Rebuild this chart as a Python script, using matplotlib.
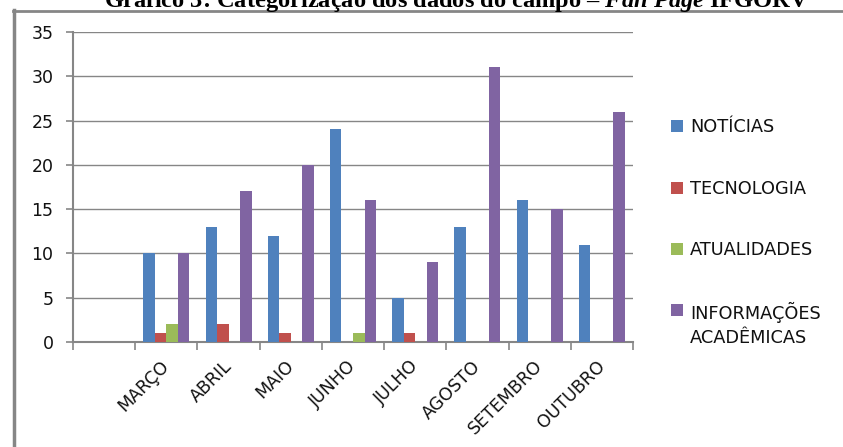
import numpy as np
import matplotlib
matplotlib.use("Agg")
import matplotlib.pyplot as plt
from matplotlib.patches import Rectangle
from matplotlib.lines import Line2D
from matplotlib.transforms import ScaledTranslation

# categorias (a primeira fica vazia, como na planilha original)
meses = ['', 'MARÇO', 'ABRIL', 'MAIO', 'JUNHO', 'JULHO', 'AGOSTO', 'SETEMBRO', 'OUTUBRO']
noticias = [0, 10, 13, 12, 24, 5, 13, 16, 11]
tecnologia = [0, 1, 2, 1, 0, 1, 0, 0, 0]
atualidades = [0, 2, 0, 0, 1, 0, 0, 0, 0]
info_academicas = [0, 10, 17, 20, 16, 9, 31, 15, 26]

series = [noticias, tecnologia, atualidades, info_academicas]
nomes = ['NOTÍCIAS', 'TECNOLOGIA', 'ATUALIDADES', 'INFORMAÇÕES\nACADÊMICAS']
cores = ['#4F81BD', '#C0504D', '#9BBB59', '#8064A2']
cinza = '#868686'
texto = '#111111'

plt.rcParams['mathtext.fontset'] = 'custom'
plt.rcParams['mathtext.it'] = 'Liberation Serif:italic:bold'

W, H = 843, 447
fig = plt.figure(figsize=(W / 100, H / 100), dpi=100)
ax = fig.add_axes([73 / W, 105 / H, 560 / W, 310 / H])

x = np.arange(len(meses))
largura = 0.185
for i, (valores, cor) in enumerate(zip(series, cores)):
    ax.bar(x + (i - 1.5) * largura, valores, largura, color=cor, zorder=3)

ax.set_xlim(-0.5, len(meses) - 0.5)
ax.set_ylim(0, 35)
ax.set_yticks(range(0, 36, 5))
ax.yaxis.grid(True, color=cinza, linewidth=1, zorder=0)

# marcas nas divisas das categorias, rótulos no centro
ax.set_xticks(np.arange(len(meses) + 1) - 0.5)
ax.set_xticklabels([])
ax.set_xticks(x, minor=True)
ax.set_xticklabels(meses, minor=True, rotation=45, ha='right', va='top',
                   rotation_mode='anchor', fontsize=12.5, color=texto)
ax.tick_params(axis='x', which='major', length=6, width=1.2, color=cinza)
ax.tick_params(axis='x', which='minor', length=0, pad=13)
ax.tick_params(axis='y', length=5, width=1.2, color=cinza, labelsize=12.5,
               labelcolor=texto, pad=9)

# puxa os rótulos inclinados um pouco para a esquerda e para cima
desloc = ScaledTranslation(-0.06, 0.03, fig.dpi_scale_trans)
for rot in ax.get_xticklabels(minor=True):
    rot.set_transform(rot.get_transform() + desloc)

for lado in ['top', 'right']:
    ax.spines[lado].set_visible(False)
for lado in ['left', 'bottom']:
    ax.spines[lado].set_color(cinza)
    ax.spines[lado].set_linewidth(1.5)

# legenda desenhada à mão: quadrado alinhado com a primeira linha do rótulo
leg_y = [126, 188, 249, 310]
for nome, cor, yy in zip(nomes, cores, leg_y):
    fig.add_artist(Rectangle((671 / W, 1 - (yy + 6) / H), 12 / W, 12 / H,
                             facecolor=cor, edgecolor='none'))
    fig.text(690 / W, 1 - (yy - 8) / H, nome, ha='left', va='top', fontsize=12.8,
             color=texto, linespacing=1.4)

# moldura do gráfico
fig.add_artist(Line2D([14 / W, 14 / W], [0, 1 - 10 / H], color=cinza, linewidth=2.5))
fig.add_artist(Line2D([13 / W, 1], [1 - 10.5 / H, 1 - 10.5 / H], color=cinza, linewidth=2))

fig.text(456 / W, 1 - 7 / H, 'Gráfico 3: Categorização dos dados do campo – $\\mathit{Fan\\ Page}$ IFGORV',
         ha='center', va='baseline', fontsize=17.6, fontweight='bold', family='Liberation Serif')

fig.savefig('out.png', dpi=100)
